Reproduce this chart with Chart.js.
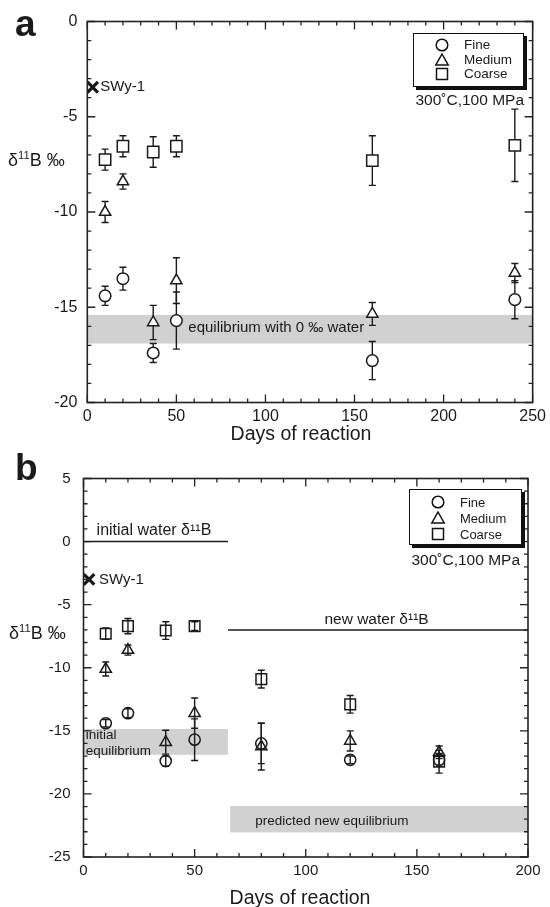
<!DOCTYPE html>
<html>
<head>
<meta charset="utf-8">
<script src="https://cdn.jsdelivr.net/npm/chart.js@4.4.1/dist/chart.umd.min.js"></script>
<style>
  html, body { margin: 0; padding: 0; background: #fff; }
  body { width: 550px; height: 907px; position: relative; overflow: hidden;
         font-family: 'Liberation Sans', Arial, sans-serif; color: #1a1a1a; }
  canvas { position: absolute; left: 0; }
  #chartA { top: 0; }
  #chartB { top: 450px; }
  .txt { position: absolute; white-space: nowrap; line-height: 1; }
  .panel { font-weight: bold; font-size: 37px; }
  .ytitle { font-size: 18px; transform: translateY(-50%); }
  .ytitle sup { font-size: 0.62em; vertical-align: 0.6em; line-height: 0; }
  .xtitle { font-size: 19.5px; transform: translate(-50%, -50%); }
  .cond { font-size: 15.5px; transform: translate(-100%, -50%); }
  .legend { position: absolute; border: 1.5px solid #111; box-shadow: 3px 3px 0 #111;
            background: #fff; box-sizing: border-box; }
  .legend svg { position: absolute; width: 16px; height: 16px; transform: translate(-50%, -50%); }
  .legend span { position: absolute; transform: translateY(-50%); line-height: 1; white-space: nowrap; }
</style>
</head>
<body>
<canvas id="chartA" width="550" height="450"></canvas>
<canvas id="chartB" width="550" height="457"></canvas>

<div class="txt panel" style="left:15px;top:5px">a</div>
<div class="txt panel" style="left:15px;top:449px">b</div>

<div class="txt ytitle" style="left:8px;top:160px">&delta;<sup>11</sup>B &permil;</div>
<div class="txt ytitle" style="left:9px;top:633px">&delta;<sup>11</sup>B &permil;</div>

<div class="txt xtitle" style="left:301px;top:434px">Days of reaction</div>
<div class="txt xtitle" style="left:300px;top:898px">Days of reaction</div>

<div class="txt cond" style="left:524px;top:100px">300˚C,100 MPa</div>
<div class="txt cond" style="left:520px;top:560px">300˚C,100 MPa</div>

<div class="legend" style="left:413px;top:33px;width:111px;height:54px;font-size:13.5px">
  <svg style="left:28px;top:11px" viewBox="0 0 16 16"><circle cx="8" cy="8" r="5.8" fill="none" stroke="#111" stroke-width="1.5"/></svg>
  <svg style="left:28px;top:26px" viewBox="0 0 16 16"><polygon points="8,2 14.2,13 1.8,13" fill="none" stroke="#111" stroke-width="1.5"/></svg>
  <svg style="left:28px;top:40px" viewBox="0 0 16 16"><rect x="2.5" y="2.5" width="11" height="11" fill="none" stroke="#111" stroke-width="1.5"/></svg>
  <span style="left:50px;top:11px">Fine</span>
  <span style="left:50px;top:26px">Medium</span>
  <span style="left:50px;top:40px">Coarse</span>
</div>

<div class="legend" style="left:409px;top:489px;width:113px;height:56px;font-size:13px">
  <svg style="left:28px;top:11.5px" viewBox="0 0 16 16"><circle cx="8" cy="8" r="5.8" fill="none" stroke="#111" stroke-width="1.5"/></svg>
  <svg style="left:28px;top:27.5px" viewBox="0 0 16 16"><polygon points="8,2 14.2,13 1.8,13" fill="none" stroke="#111" stroke-width="1.5"/></svg>
  <svg style="left:28px;top:44px" viewBox="0 0 16 16"><rect x="2.5" y="2.5" width="11" height="11" fill="none" stroke="#111" stroke-width="1.5"/></svg>
  <span style="left:50px;top:11.5px">Fine</span>
  <span style="left:50px;top:27.5px">Medium</span>
  <span style="left:50px;top:44px">Coarse</span>
</div>

<script>
// ---- panel a: 300 C, 100 MPa, 0 permil water ----
const daysA = [10, 20, 37, 50, 160, 240];
const fineA = [-14.4, -13.5, -17.4, -15.7, -17.8, -14.6];
const fineErrA = [0.5, 0.6, 0.5, 1.5, 1.0, 1.0];
const mediumA = [-10.0, -8.4, -15.8, -13.6, -15.35, -13.2];
const mediumErrA = [0.55, 0.4, 0.9, 1.2, 0.6, 0.5];
const coarseA = [-7.25, -6.55, -6.85, -6.55, -7.3, -6.5];
const coarseErrA = [0.55, 0.55, 0.8, 0.55, 1.3, 1.9];
const swyA = { x: 3.0, y: -3.45 };
const eqBandA = [-15.4, -16.9];

// ---- panel b: water changed at ~65 days ----
const daysB = [10, 20, 37, 50, 80, 120, 160];
const fineB = [-14.4, -13.6, -17.4, -15.7, -16.0, -17.3, -17.3];
const fineErrB = [0.3, 0.35, 0.4, 1.65, 1.6, 0.3, 0.5];
const mediumB = [-10.1, -8.6, -15.9, -13.6, -16.25, -15.8, -16.7];
const mediumErrB = [0.55, 0.4, 0.95, 1.2, 1.85, 0.8, 0.5];
const coarseB = [-7.3, -6.7, -7.05, -6.7, -10.9, -12.9, -17.45];
const coarseErrB = [0.45, 0.6, 0.7, 0.35, 0.7, 0.7, 0.9];
const swyB = { x: 2.5, y: -3.0 };
const waterChangeDay = 65;
const initialWater = 0;
const newWater = -7.0;
const initEqBandB = [-14.85, -16.9];
const newEqBandB = [-20.95, -23.05];

const ink = '#1a1a1a';
Chart.defaults.font.family = "'Liberation Sans', Arial, sans-serif";
Chart.defaults.color = ink;

function series(label, style, days, vals, errs, r, fill) {
    return {
        label,
        data: days.map((d, i) => ({ x: d, y: vals[i] })),
        errors: errs,
        pointStyle: style,
        pointRadius: r,
        pointBackgroundColor: fill,
        pointBorderColor: ink,
        pointBorderWidth: 1.5,
        showLine: false
    };
}

function swySet(p) {
    return { label: 'SWy-1', data: [p], pointStyle: 'crossRot', pointRadius: 7.5,
             pointBorderWidth: 3.2, pointBorderColor: ink };
}

// bands, reference lines, error bars, frame with inward ticks, notes
function extras(cfg) {
    return {
        id: 'extras',
        beforeDatasetsDraw(chart) {
            const { ctx, scales: { x, y } } = chart;
            ctx.save();
            ctx.fillStyle = '#d1d1d1';
            cfg.bands.forEach(b => {
                const x0 = x.getPixelForValue(b.from), x1 = x.getPixelForValue(b.to);
                const y0 = y.getPixelForValue(b.range[0]), y1 = y.getPixelForValue(b.range[1]);
                ctx.fillRect(x0, y0, x1 - x0, y1 - y0);
            });
            ctx.strokeStyle = ink;
            ctx.lineWidth = 1.5;
            (cfg.lines || []).forEach(l => {
                const py = y.getPixelForValue(l.y);
                ctx.beginPath();
                ctx.moveTo(x.getPixelForValue(l.from), py);
                ctx.lineTo(x.getPixelForValue(l.to), py);
                ctx.stroke();
            });
            // error bars
            ctx.lineWidth = 1.4;
            chart.data.datasets.forEach((ds, i) => {
                if (!ds.errors) return;
                chart.getDatasetMeta(i).data.forEach((pt, j) => {
                    const v = ds.data[j].y, e = ds.errors[j];
                    const yt = y.getPixelForValue(v + e), yb = y.getPixelForValue(v - e);
                    ctx.beginPath();
                    ctx.moveTo(pt.x, yt); ctx.lineTo(pt.x, yb);
                    ctx.moveTo(pt.x - 3.5, yt); ctx.lineTo(pt.x + 3.5, yt);
                    ctx.moveTo(pt.x - 3.5, yb); ctx.lineTo(pt.x + 3.5, yb);
                    ctx.stroke();
                });
            });
            ctx.restore();
        },
        afterDraw(chart) {
            const { ctx, chartArea: a, scales: { x, y } } = chart;
            ctx.save();
            ctx.strokeStyle = '#222';
            ctx.lineWidth = 1.6;
            ctx.strokeRect(a.left, a.top, a.width, a.height);
            ctx.lineWidth = 1.3;
            ctx.beginPath();
            for (let v = x.min; v <= x.max; v += 10) {
                const px = x.getPixelForValue(v), len = v % 50 === 0 ? 8 : 4;
                ctx.moveTo(px, a.bottom); ctx.lineTo(px, a.bottom - len);
                ctx.moveTo(px, a.top); ctx.lineTo(px, a.top + len);
            }
            for (let v = y.min; v <= y.max; v += 1) {
                const py = y.getPixelForValue(v), len = v % 5 === 0 ? 8 : 4;
                ctx.moveTo(a.left, py); ctx.lineTo(a.left + len, py);
                ctx.moveTo(a.right, py); ctx.lineTo(a.right - len, py);
            }
            ctx.stroke();
            ctx.fillStyle = ink;
            ctx.textBaseline = 'middle';
            ctx.textAlign = 'left';
            cfg.notes.forEach(n => {
                ctx.font = n.size + "px 'Liberation Sans', Arial, sans-serif";
                ctx.fillText(n.text, x.getPixelForValue(n.x), y.getPixelForValue(n.y));
            });
            ctx.restore();
        }
    };
}

function makeChart(id, cfg) {
    return new Chart(document.getElementById(id), {
        type: 'scatter',
        data: { datasets: cfg.datasets },
        options: {
            responsive: false,
            animation: false,
            devicePixelRatio: 1,
            layout: { padding: cfg.padding },
            plugins: { legend: { display: false }, tooltip: { enabled: false } },
            scales: {
                x: {
                    type: 'linear', min: cfg.xRange[0], max: cfg.xRange[1],
                    ticks: { stepSize: 50, padding: cfg.xPad, font: { size: cfg.tickSize }, color: ink },
                    grid: { display: false, drawTicks: false },
                    border: { display: false },
                    afterFit: s => { s.height = 30; }
                },
                y: {
                    type: 'linear', min: cfg.yRange[0], max: cfg.yRange[1],
                    ticks: { stepSize: 5, padding: cfg.yPad, font: { size: cfg.tickSize }, color: ink },
                    grid: { display: false, drawTicks: false },
                    border: { display: false },
                    afterFit: s => { s.width = 40; }
                }
            }
        },
        plugins: [extras(cfg)]
    });
}

// a
makeChart('chartA', {
    xRange: [0, 250], yRange: [-20, 0], tickSize: 16, xPad: 4, yPad: 10,
    padding: { left: 47.3, right: 13, top: 21.5, bottom: 17.5 },
    datasets: [
        series('Fine', 'circle', daysA, fineA, fineErrA, 5.8, '#fff'),
        series('Medium', 'triangle', daysA, mediumA, mediumErrA, 6.5, '#fff'),
        series('Coarse', 'rect', daysA, coarseA, coarseErrA, 8, '#fff'),
        swySet(swyA)
    ],
    bands: [{ from: 0, to: 250, range: eqBandA }],
    notes: [
        { text: 'SWy-1', x: swyA.x + 4.2, y: swyA.y, size: 15 },
        { text: 'equilibrium with 0 ‰ water', x: 56.7, y: -16.07, size: 15 }
    ]
});

// b
makeChart('chartB', {
    xRange: [0, 200], yRange: [-25, 5], tickSize: 15, xPad: 5, yPad: 13,
    padding: { left: 43.5, right: 22, top: 28.5, bottom: 20 },
    datasets: [
        series('Fine', 'circle', daysB, fineB, fineErrB, 5.6, 'rgba(0,0,0,0)'),
        series('Medium', 'triangle', daysB, mediumB, mediumErrB, 6.5, 'rgba(0,0,0,0)'),
        series('Coarse', 'rect', daysB, coarseB, coarseErrB, 7.5, 'rgba(0,0,0,0)'),
        swySet(swyB)
    ],
    bands: [
        { from: 0, to: waterChangeDay, range: initEqBandB },
        { from: waterChangeDay + 1, to: 200, range: newEqBandB }
    ],
    lines: [
        { y: initialWater, from: 0, to: waterChangeDay },
        { y: newWater, from: waterChangeDay, to: 200 }
    ],
    notes: [
        { text: 'SWy-1', x: swyB.x + 4.5, y: swyB.y, size: 15 },
        { text: 'initial water δ¹¹B', x: 5.9, y: 0.86, size: 16 },
        { text: 'new water δ¹¹B', x: 108.4, y: -6.21, size: 15.5 },
        { text: 'initial', x: 1.0, y: -15.33, size: 13.5 },
        { text: 'equilibrium', x: 1.0, y: -16.65, size: 13.5 },
        { text: 'predicted new equilibrium', x: 77.3, y: -22.14, size: 13.5 }
    ]
});
</script>
</body>
</html>
